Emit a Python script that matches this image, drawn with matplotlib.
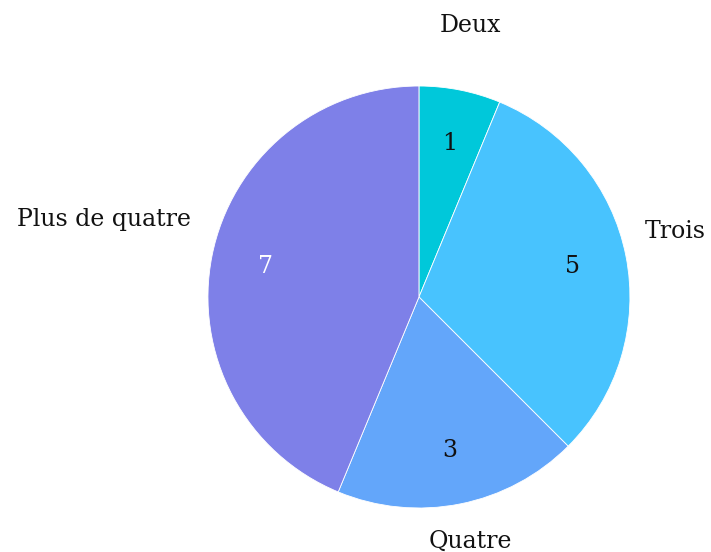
import numpy as np
import matplotlib
matplotlib.use("Agg")
import matplotlib.pyplot as plt

# --- data ---
categories = ["Deux", "Trois", "Quatre", "Plus de quatre"]
counts = [1, 5, 3, 7]
colors = ["#00C8DA", "#48C3FE", "#63A6FA", "#7E80E8"]
value_colors = ["#111111", "#111111", "#111111", "#ffffff"]
label_radius = [1.24, 1.24, 1.25, 1.52]

plt.rcParams["font.family"] = ["DejaVu Serif"]
FS = 17

fig = plt.figure(figsize=(7.11, 5.52), dpi=100)
ax = fig.add_axes([0.2925, 0.0797, 0.5935, 0.7645])

wedges, texts, autotexts = ax.pie(
    counts,
    labels=categories,
    colors=colors,
    startangle=90,
    counterclock=False,
    radius=1,
    autopct=lambda p: f"{p * sum(counts) / 100:.0f}",
    pctdistance=0.74,
    wedgeprops=dict(edgecolor="white", linewidth=0.6),
    textprops=dict(fontsize=FS),
)

for t, c in zip(autotexts, value_colors):
    t.set_color(c)

# --- place category labels outside, centred on each wedge's middle angle ---
for w, t, r in zip(wedges, texts, label_radius):
    mid = np.deg2rad((w.theta1 + w.theta2) / 2)
    t.set_position((r * np.cos(mid), r * np.sin(mid) + 0.07))
    t.set_ha("center")
    t.set_va("center")
    t.set_color("#111111")

ax.set_xlim(-1, 1)
ax.set_ylim(-1, 1)
ax.set_aspect("equal")

fig.savefig("out.png", dpi=100)
